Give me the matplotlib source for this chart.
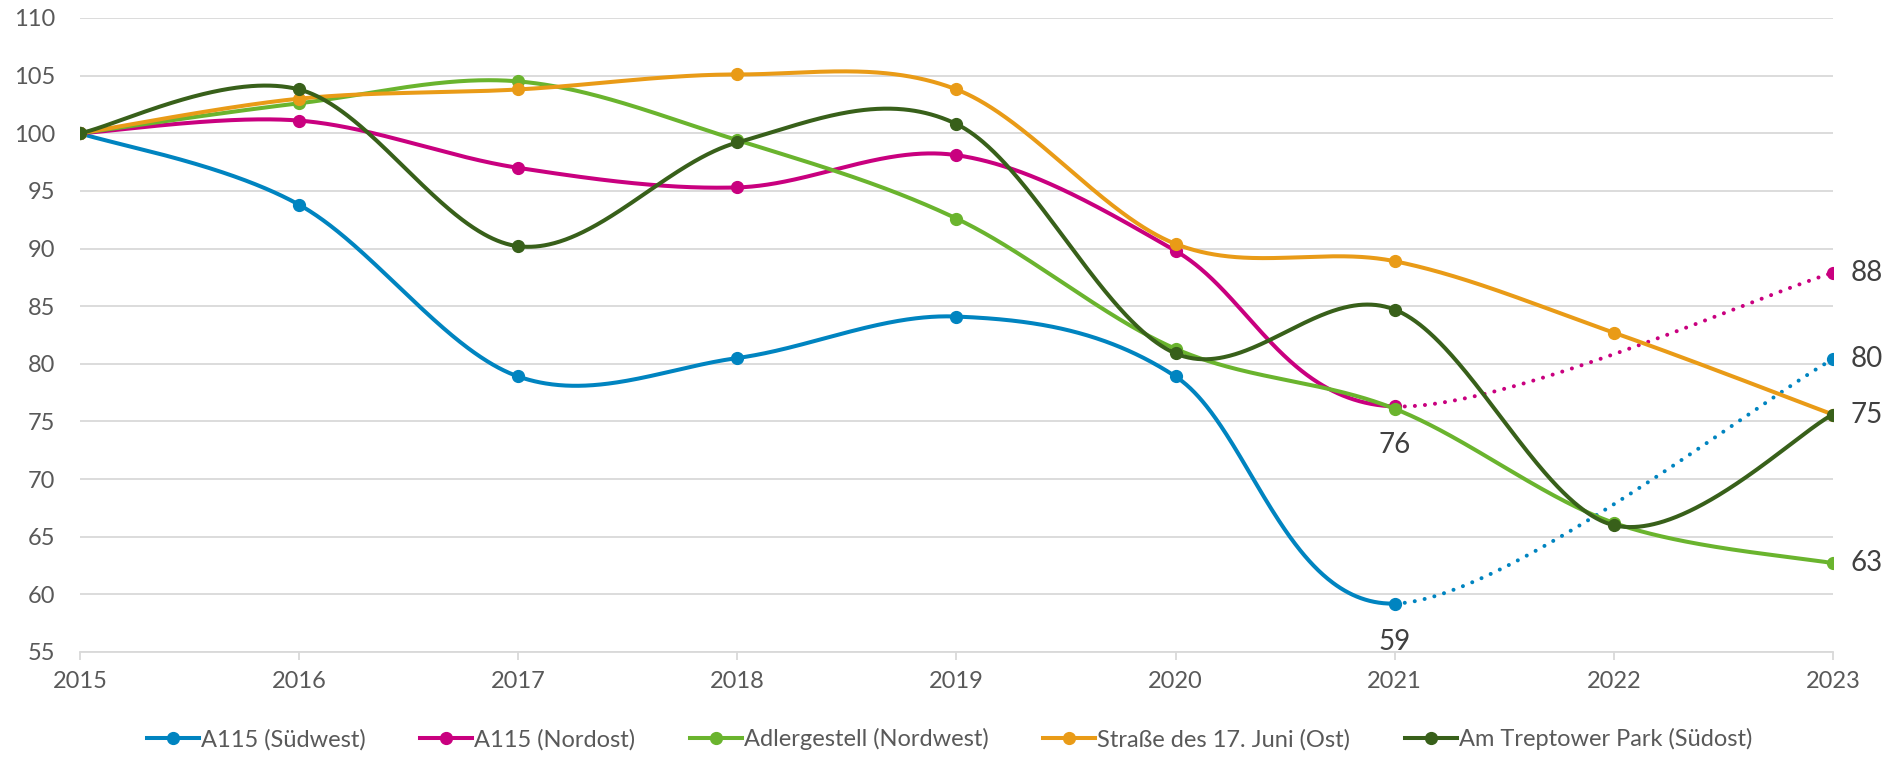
import numpy as np
from matplotlib import pyplot as plt
from matplotlib.lines import Line2D

years = [2015, 2016, 2017, 2018, 2019, 2020, 2021, 2022, 2023]

names = ['A115 (Südwest)', 'A115 (Nordost)', 'Adlergestell (Nordwest)',
         'Straße des 17. Juni (Ost)', 'Am Treptower Park (Südost)']

# index values, 2015 = 100 (nan = no value that year)
a115_sw = [100, 93.8, 78.9, 80.5, 84.1, 78.9, 59.2, np.nan, 80.4]
a115_no = [100, 101.1, 97.0, 95.3, 98.1, 89.8, 76.3, np.nan, 87.9]
adler = [100, 102.6, 104.5, 99.4, 92.6, 81.3, 76.1, 66.2, 62.7]
strasse = [100, 103.0, 103.8, 105.1, 103.8, 90.4, 88.9, 82.7, 75.6]
treptow = [100, 103.8, 90.2, 99.2, 100.8, 80.9, 84.7, 66.0, 75.6]

series = [a115_sw, a115_no, adler, strasse, treptow]
colors = ['#0084C0', '#C9007F', '#6AB42E', '#E99B17', '#38601A']

# end labels: (series index, year, text, placement)
end_labels = [(1, 2023, '88', 'right'), (0, 2023, '80', 'right'),
              (4, 2023, '75', 'right'), (2, 2023, '63', 'right'),
              (1, 2021, '76', 'below'), (0, 2021, '59', 'below')]

text_col = '#595959'
grid_col = '#D9D9D9'


def smooth_segments(x, y, n=60):
    # excel-like smoothed line: cubic bezier through the points (catmull-rom)
    x = np.asarray(x, float)
    y = np.asarray(y, float)
    ok = ~np.isnan(y)
    px, py = x[ok], y[ok]
    segs = []
    for i in range(len(px) - 1):
        i0 = max(i - 1, 0)
        i3 = min(i + 2, len(px) - 1)
        p0 = np.array([px[i], py[i]])
        p3 = np.array([px[i + 1], py[i + 1]])
        c1 = p0 + (p3 - np.array([px[i0], py[i0]])) / 6.0
        c2 = p3 - (np.array([px[i3], py[i3]]) - p0) / 6.0
        t = np.linspace(0, 1, n)[:, None]
        pts = (1 - t) ** 3 * p0 + 3 * (1 - t) ** 2 * t * c1 + 3 * (1 - t) * t ** 2 * c2 + t ** 3 * p3
        gap = (px[i + 1] - px[i]) > 1
        segs.append((pts[:, 0], pts[:, 1], gap))
    return segs


plt.rcParams['font.family'] = ['Lato', 'DejaVu Sans']

fig = plt.figure(figsize=(18.99, 7.59), dpi=100)
ax = fig.add_axes([0.0421, 0.141, 0.9231, 0.8353])

lw = 2.9
for k in range(len(series)):
    vals = series[k]
    for sx, sy, gap in smooth_segments(years, vals, n=200):
        if gap:
            ax.plot(sx, sy, color=colors[k], lw=lw, linestyle=(0, (0.01, 2.5)),
                    dash_capstyle='round', zorder=3 + k)
        else:
            ax.plot(sx, sy, color=colors[k], lw=lw, solid_capstyle='round', zorder=3 + k)
    ax.plot(years, vals, linestyle='none', marker='o', ms=8.5, color=colors[k], zorder=3 + k)

for k, yr, txt, where in end_labels:
    v = series[k][years.index(yr)]
    if where == 'right':
        ax.annotate(txt, (yr, v), xytext=(13, 0), textcoords='offset points',
                    ha='left', va='center', fontsize=20, color='#404040',
                    annotation_clip=False)
    else:
        ax.annotate(txt, (yr, v), xytext=(0, -28), textcoords='offset points',
                    ha='center', va='center', fontsize=20, color='#404040',
                    annotation_clip=False)

ax.set_xlim(years[0], years[-1])
ax.set_ylim(55, 110)
ax.set_xticks(years)
ax.set_yticks(np.arange(55, 111, 5))
ax.grid(axis='y', color=grid_col, lw=1.3)
ax.set_axisbelow(True)
for s in ['top', 'right', 'left']:
    ax.spines[s].set_visible(False)
ax.spines['bottom'].set_color(grid_col)
ax.spines['bottom'].set_linewidth(1.3)
ax.tick_params(axis='y', length=0, pad=18, labelsize=17, labelcolor=text_col)
ax.tick_params(axis='x', length=6, width=1.3, color=grid_col, pad=8, labelsize=17,
               labelcolor=text_col)

handles = [Line2D([0], [0], color=c, lw=lw, marker='o', ms=8.5) for c in colors]
fig.legend(handles, names, loc='center', bbox_to_anchor=(0.5, 0.026), ncol=5,
           frameon=False, fontsize=17, labelcolor=text_col, handlelength=2.2,
           handletextpad=0.1, columnspacing=2.3)

plt.savefig('out.png', dpi=100)
plt.close()
